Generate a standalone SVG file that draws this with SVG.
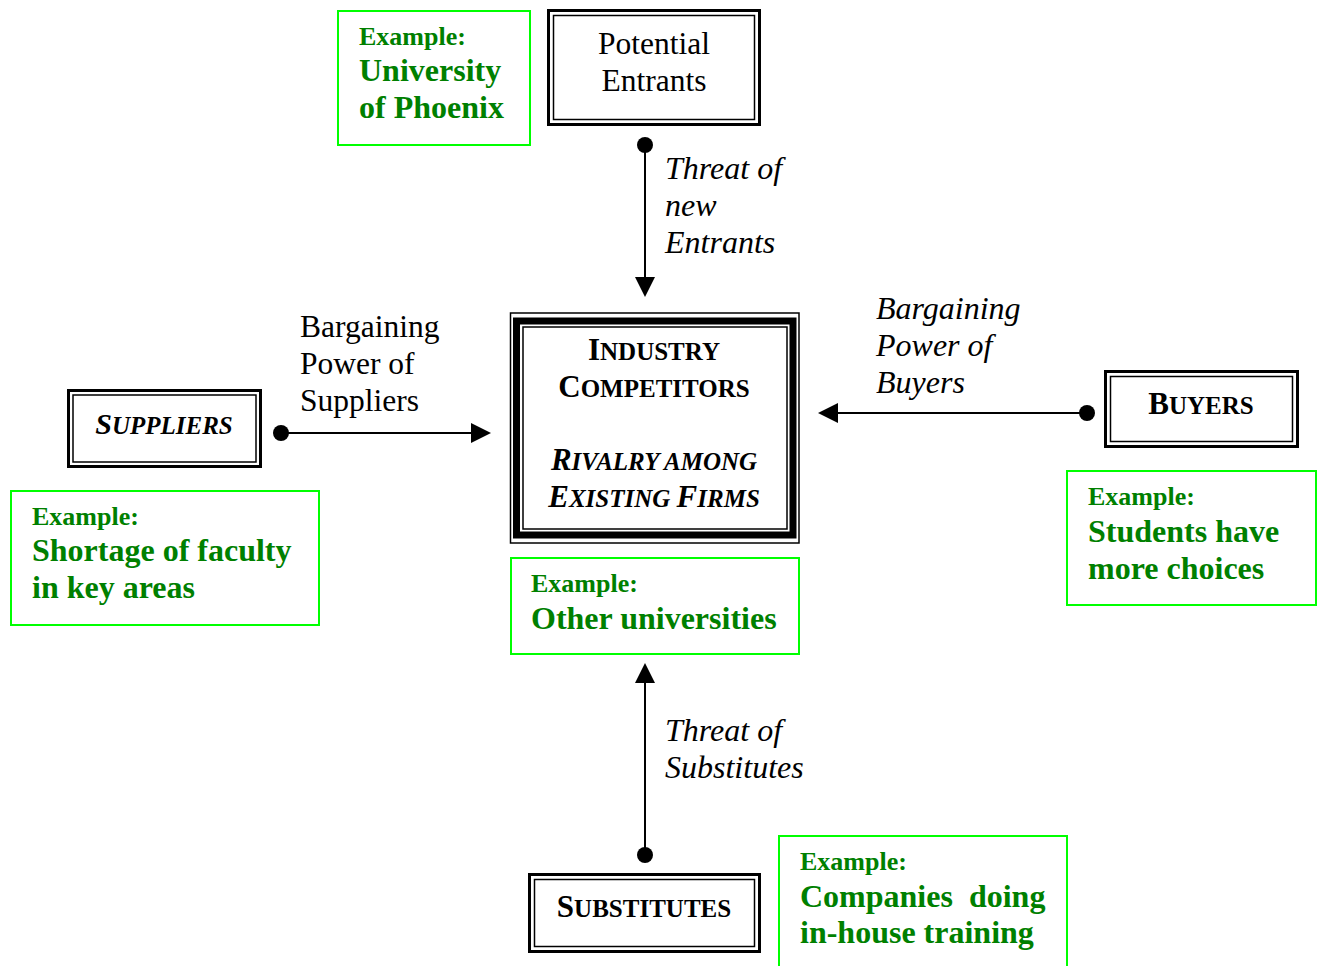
<svg xmlns="http://www.w3.org/2000/svg" width="1319" height="966" viewBox="0 0 1319 966">
<defs>
<style>
.gbox{fill:#fff;stroke:#00ff00;stroke-width:2}
.gt{font-family:"Liberation Serif",serif;font-weight:bold;fill:#008000}
.ex{font-size:26px}
.gm{font-size:32px}
.lbl{font-family:"Liberation Serif",serif;font-size:31.5px;fill:#000}
.it{font-style:italic;font-size:32px}
.sc{font-family:"Liberation Serif",serif;font-weight:bold;fill:#000;font-size:25px}
.sc.it{font-size:25px}
.big{font-size:31px}
.thick{fill:none;stroke:#000;stroke-width:3}
.thin{fill:none;stroke:#000;stroke-width:1.5}
.conn{stroke:#000;stroke-width:2;fill:none}
</style>
</defs>
<rect width="1319" height="966" fill="#fff"/>

<g id="connectors">
<circle cx="645" cy="145" r="8" fill="#000"/>
<line class="conn" x1="645" y1="145" x2="645" y2="277"/>
<path d="M635,277 L655,277 L645,297 Z" fill="#000"/>
<circle cx="281" cy="433" r="8" fill="#000"/>
<line class="conn" x1="281" y1="433" x2="471" y2="433"/>
<path d="M471,423 L471,443 L491,433 Z" fill="#000"/>
<circle cx="1087" cy="413" r="8" fill="#000"/>
<line class="conn" x1="1087" y1="413" x2="838" y2="413"/>
<path d="M838,403 L838,423 L818,413 Z" fill="#000"/>
<circle cx="645" cy="855" r="8" fill="#000"/>
<line class="conn" x1="645" y1="855" x2="645" y2="683"/>
<path d="M635,683 L655,683 L645,663 Z" fill="#000"/>
</g>

<g id="label-entrants">
<text class="lbl it" x="665" y="179">Threat of</text>
<text class="lbl it" x="665" y="216">new</text>
<text class="lbl it" x="665" y="253">Entrants</text>
</g>
<g id="label-suppliers">
<text class="lbl" x="300" y="337">Bargaining</text>
<text class="lbl" x="300" y="374">Power of</text>
<text class="lbl" x="300" y="411">Suppliers</text>
</g>
<g id="label-buyers">
<text class="lbl it" x="876" y="319">Bargaining</text>
<text class="lbl it" x="876" y="356">Power of</text>
<text class="lbl it" x="876" y="393">Buyers</text>
</g>
<g id="label-substitutes">
<text class="lbl it" x="665" y="741">Threat of</text>
<text class="lbl it" x="665" y="778">Substitutes</text>
</g>

<g id="ex-entrants">
<rect class="gbox" x="338" y="11" width="192" height="134"/>
<text class="gt ex" x="359" y="45">Example:</text>
<text class="gt gm" x="359" y="81">University</text>
<text class="gt gm" x="359" y="118">of Phoenix</text>
</g>

<g id="potential-entrants">
<rect class="thick" x="548.5" y="10.5" width="211" height="114"/>
<rect class="thin" x="553.5" y="15.5" width="201" height="104"/>
<text class="lbl" x="654" y="54" text-anchor="middle">Potential</text>
<text class="lbl" x="654" y="91" text-anchor="middle">Entrants</text>
</g>

<g id="industry">
<rect fill="none" stroke="#000" stroke-width="1.5" x="510.5" y="313" width="288.5" height="230"/>
<rect fill="none" stroke="#000" stroke-width="7" x="516.5" y="321" width="276.5" height="214"/>
<rect fill="none" stroke="#000" stroke-width="1.5" x="523" y="327" width="264" height="202"/>
<text class="sc" x="654" y="360" text-anchor="middle"><tspan class="big">I</tspan>NDUSTRY</text>
<text class="sc" x="654" y="397" text-anchor="middle"><tspan class="big">C</tspan>OMPETITORS</text>
<text class="sc it" x="654" y="470" text-anchor="middle"><tspan class="big">R</tspan>IVALRY AMONG</text>
<text class="sc it" x="654" y="507" text-anchor="middle"><tspan class="big">E</tspan>XISTING <tspan class="big">F</tspan>IRMS</text>
</g>

<g id="suppliers">
<rect class="thick" x="68.5" y="390.5" width="192" height="76"/>
<rect class="thin" x="73" y="395" width="183" height="67"/>
<text class="sc it" x="164" y="434" text-anchor="middle"><tspan style="font-size:30px">S</tspan>UPPLIERS</text>
</g>

<g id="ex-suppliers">
<rect class="gbox" x="11" y="491" width="308" height="134"/>
<text class="gt ex" x="32" y="525">Example:</text>
<text class="gt gm" x="32" y="561">Shortage of faculty</text>
<text class="gt gm" x="32" y="598">in key areas</text>
</g>

<g id="buyers">
<rect class="thick" x="1105.5" y="371.5" width="192" height="75"/>
<rect class="thin" x="1110.5" y="376.5" width="182" height="65"/>
<text class="sc" x="1201" y="414" text-anchor="middle"><tspan class="big">B</tspan>UYERS</text>
</g>

<g id="ex-buyers">
<rect class="gbox" x="1067" y="471" width="249" height="134"/>
<text class="gt ex" x="1088" y="505">Example:</text>
<text class="gt gm" x="1088" y="542">Students have</text>
<text class="gt gm" x="1088" y="579">more choices</text>
</g>

<g id="ex-industry">
<rect class="gbox" x="511" y="558" width="288" height="96"/>
<text class="gt ex" x="531" y="592">Example:</text>
<text class="gt gm" x="531" y="629">Other universities</text>
</g>

<g id="substitutes">
<rect class="thick" x="529.5" y="874.5" width="230" height="77"/>
<rect class="thin" x="534.5" y="879.5" width="220" height="67"/>
<text class="sc" x="644" y="917" text-anchor="middle"><tspan class="big">S</tspan>UBSTITUTES</text>
</g>

<g id="ex-substitutes">
<rect class="gbox" x="779" y="836" width="288" height="140"/>
<text class="gt ex" x="800" y="870">Example:</text>
<text class="gt gm" x="800" y="907" xml:space="preserve">Companies  doing</text>
<text class="gt gm" x="800" y="943">in-house training</text>
</g>
</svg>
